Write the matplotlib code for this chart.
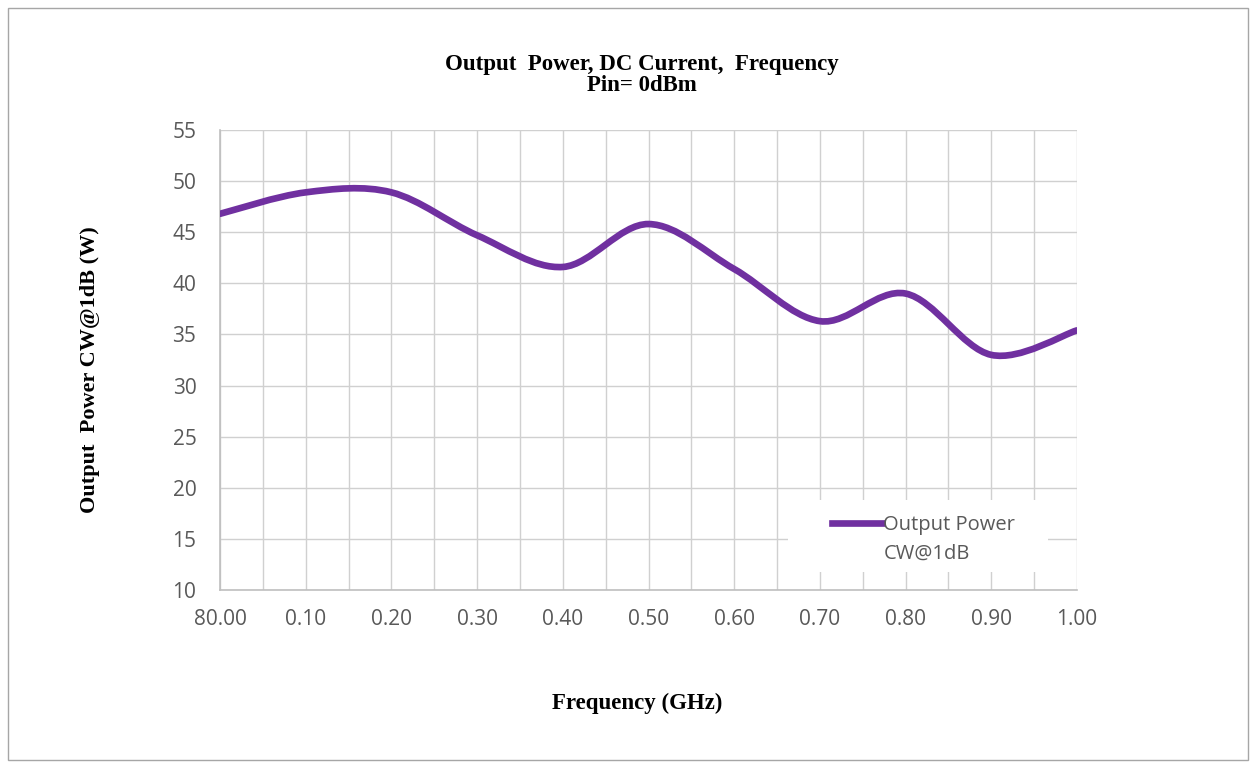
import numpy as np
import matplotlib.pyplot as plt
from matplotlib.path import Path
from matplotlib.patches import PathPatch, Rectangle
from matplotlib.lines import Line2D

# values
freq = [0.0, 0.1, 0.2, 0.3, 0.4, 0.5, 0.6, 0.7, 0.8, 0.9, 1.0]
power = [46.8, 48.9, 48.9, 44.7, 41.6, 45.8, 41.4, 36.3, 39.0, 33.0, 35.4]
x_ticks = [0.0, 0.1, 0.2, 0.3, 0.4, 0.5, 0.6, 0.7, 0.8, 0.9, 1.0]
x_labels = ['80.00', '0.10', '0.20', '0.30', '0.40', '0.50', '0.60', '0.70', '0.80', '0.90', '1.00']
y_ticks = [10, 15, 20, 25, 30, 35, 40, 45, 50, 55]

purple = '#7030A0'
grid_c = '#D0D0D0'
txt_c = '#595959'
serif = 'Liberation Serif'
sans = 'Open Sans'


def smooth_path(xs, ys):
    '''Excel-like smoothed line: cubic bezier segments through the points'''
    pts = np.column_stack([xs, ys])
    n = len(pts)
    verts = [pts[0]]
    codes = [Path.MOVETO]
    for i in range(n - 1):
        p0 = pts[i - 1] if i > 0 else pts[i]
        p1 = pts[i]
        p2 = pts[i + 1]
        p3 = pts[i + 2] if i + 2 < n else pts[i + 1]
        c1 = p1 + (p2 - p0) / 6.0
        c2 = p2 - (p3 - p1) / 6.0
        verts += [c1, c2, p2]
        codes += [Path.CURVE4] * 3
    return Path(verts, codes)


fig = plt.figure(figsize=(12.55, 7.67), dpi=100)
fig.subplots_adjust(left=220/1255, right=1077/1255, top=1-130/767, bottom=1-590/767)
ax = fig.add_subplot(111)

patch = PathPatch(smooth_path(freq, power), facecolor='none', edgecolor=purple,
                  lw=4.8, capstyle='round', joinstyle='round', zorder=3)
ax.add_patch(patch)

ax.set_xlim(0, 1.0)
ax.set_ylim(10, 55)
ax.set_xticks(x_ticks)
ax.set_xticklabels(x_labels)
ax.set_xticks(np.arange(0.05, 1.0, 0.1), minor=True)
ax.set_yticks(y_ticks)
ax.grid(True, which='both', color=grid_c, lw=1.0, zorder=0)
ax.set_axisbelow(True)
ax.tick_params(which='both', length=0, labelsize=15, labelcolor=txt_c)
ax.tick_params(axis='x', pad=14)
ax.tick_params(axis='y', pad=17)
for lab in ax.get_xticklabels() + ax.get_yticklabels():
    lab.set_family(sans)
for s in ['top', 'right']:
    ax.spines[s].set_visible(False)
for s in ['left', 'bottom']:
    ax.spines[s].set_color('#BFBFBF')
    ax.spines[s].set_linewidth(1.2)

# white legend area covering the grid
ax.add_patch(Rectangle(((788-220)/857, (590-572)/460), 260/857, 72/460,
                       transform=ax.transAxes, facecolor='white',
                       edgecolor='none', zorder=2))
handles = [Line2D([], [], color=purple, lw=4.8),
           Line2D([], [], color='none', lw=0)]
leg = ax.legend(handles, ['Output Power', 'CW@1dB'], loc='upper left',
                bbox_to_anchor=((828-220)/857, (590-511)/460), frameon=False,
                handlelength=2.5, handletextpad=0.05, labelspacing=0.45,
                borderpad=0.2, borderaxespad=0,
                prop={'family': sans, 'size': 14.5})
for t in leg.get_texts():
    t.set_color(txt_c)

fig.text(642/1255, 1-54/767, 'Output  Power, DC Current,  Frequency\nPin= 0dBm',
         ha='center', va='top', family=serif, weight='bold', fontsize=16.5,
         linespacing=1.0)
fig.text(637/1255, 1-703/767, 'Frequency (GHz)', ha='center', va='center',
         family=serif, weight='bold', fontsize=16.5)
fig.text(90/1255, 1-370/767, 'Output  Power CW@1dB (W)', ha='center', va='center',
         rotation=90, family=serif, weight='bold', fontsize=16)

fig.patches.append(Rectangle((8/1255, 7/767), 1240/1255, 752/767,
                             transform=fig.transFigure, fill=False,
                             edgecolor='#A6A6A6', lw=1.0))

fig.savefig('out.png', dpi=100)
